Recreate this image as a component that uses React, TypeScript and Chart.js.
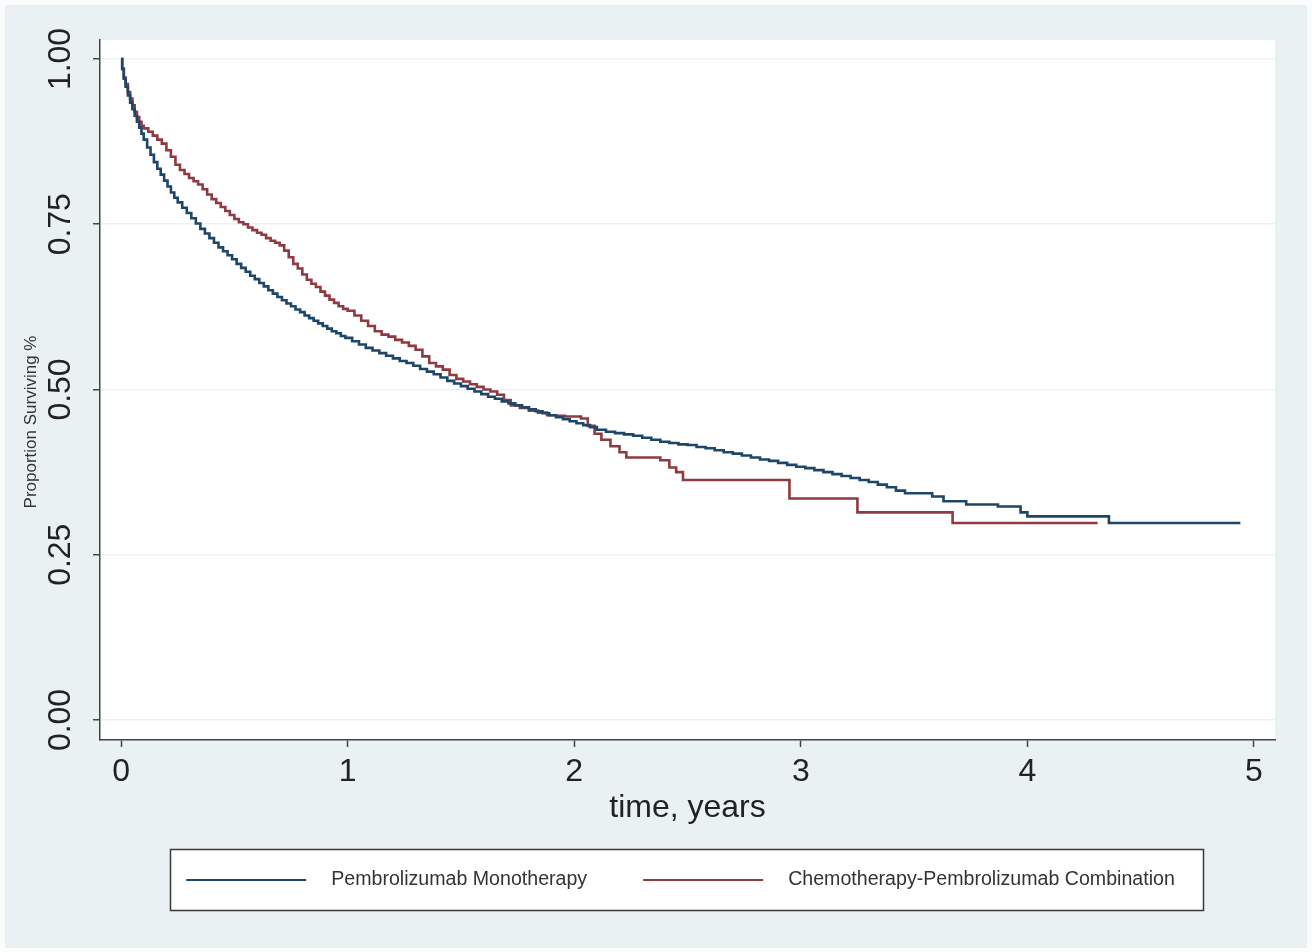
import { useEffect, useRef } from "react";
import { Chart, registerables } from "chart.js";

Chart.register(...registerables);

// ---- data ----
const seriesLabels = ["Pembrolizumab Monotherapy", "Chemotherapy-Pembrolizumab Combination"];
const seriesColors = ["#1d4668", "#8e3a40"];

const xTicks = [0, 1, 2, 3, 4, 5];
const xTickLabels = ["0", "1", "2", "3", "4", "5"];
const yTicks = [0, 0.25, 0.5, 0.75, 1];
const yTickLabels = ["0.00", "0.25", "0.50", "0.75", "1.00"];
const xTitle = "time, years";
const yTitle = "Proportion Surviving %";

const monoTimes = [
  0, 0.005, 0.012, 0.02, 0.03, 0.04, 0.05, 0.06, 0.07, 0.08, 0.09, 0.1, 0.115, 0.13, 0.145,
  0.16, 0.175, 0.19, 0.205, 0.22, 0.235, 0.25, 0.27, 0.29, 0.31, 0.33, 0.35, 0.37, 0.39, 0.41,
  0.43, 0.45, 0.47, 0.49, 0.51, 0.53, 0.55, 0.57, 0.59, 0.61, 0.63, 0.65, 0.67, 0.69, 0.71,
  0.73, 0.75, 0.77, 0.79, 0.81, 0.83, 0.85, 0.87, 0.89, 0.91, 0.93, 0.95, 0.97, 0.99, 1.02,
  1.05, 1.08, 1.11, 1.14, 1.17, 1.2, 1.23, 1.26, 1.29, 1.32, 1.35, 1.38, 1.41, 1.44, 1.47,
  1.5, 1.53, 1.56, 1.59, 1.62, 1.65, 1.68, 1.71, 1.74, 1.77, 1.8, 1.83, 1.86, 1.89, 1.92,
  1.95, 1.98, 2.01, 2.04, 2.07, 2.1, 2.14, 2.18, 2.22, 2.26, 2.3, 2.34, 2.38, 2.42, 2.46,
  2.5, 2.54, 2.58, 2.62, 2.66, 2.7, 2.74, 2.78, 2.82, 2.86, 2.9, 2.94, 2.98, 3.02, 3.06,
  3.1, 3.14, 3.18, 3.22, 3.26, 3.3, 3.34, 3.38, 3.42, 3.46, 3.58, 3.63, 3.73, 3.87, 3.97,
  4.0, 4.36, 4.94,
];
const monoSurvival = [
  1.0, 0.985, 0.97, 0.958, 0.945, 0.934, 0.924, 0.914, 0.905, 0.896, 0.887, 0.878, 0.866,
  0.855, 0.844, 0.834, 0.825, 0.816, 0.807, 0.798, 0.79, 0.783, 0.775, 0.767, 0.759, 0.751,
  0.743, 0.736, 0.729, 0.722, 0.715, 0.709, 0.703, 0.697, 0.69, 0.684, 0.678, 0.672, 0.667,
  0.661, 0.656, 0.65, 0.645, 0.64, 0.635, 0.63, 0.626, 0.621, 0.617, 0.612, 0.608, 0.604,
  0.6, 0.596, 0.592, 0.588, 0.585, 0.581, 0.578, 0.573, 0.568, 0.563, 0.559, 0.555, 0.551,
  0.547, 0.543, 0.54, 0.536, 0.531, 0.527, 0.523, 0.518, 0.513, 0.509, 0.505, 0.501, 0.497,
  0.493, 0.489, 0.486, 0.482, 0.479, 0.476, 0.473, 0.47, 0.467, 0.464, 0.461, 0.458, 0.455,
  0.452, 0.449, 0.446, 0.443, 0.439, 0.436, 0.434, 0.432, 0.43, 0.427, 0.424, 0.421, 0.419,
  0.417, 0.416, 0.413, 0.411, 0.408, 0.405, 0.403, 0.4, 0.397, 0.394, 0.392, 0.389, 0.386,
  0.383, 0.381, 0.378, 0.375, 0.372, 0.369, 0.366, 0.363, 0.36, 0.356, 0.352, 0.347, 0.343,
  0.338, 0.331, 0.326, 0.323, 0.314, 0.308, 0.298, 0.298,
];

const comboTimes = [
  0, 0.005, 0.012, 0.02, 0.03, 0.04, 0.05, 0.06, 0.07, 0.08, 0.09, 0.1, 0.12, 0.14, 0.16,
  0.18, 0.2, 0.22, 0.24, 0.26, 0.28, 0.3, 0.32, 0.34, 0.36, 0.38, 0.4, 0.42, 0.44, 0.46, 0.48,
  0.5, 0.52, 0.54, 0.56, 0.58, 0.6, 0.62, 0.64, 0.66, 0.68, 0.7, 0.72, 0.74, 0.76, 0.78, 0.8,
  0.82, 0.84, 0.86, 0.88, 0.9, 0.92, 0.94, 0.96, 0.98, 1.0, 1.03, 1.06, 1.09, 1.12, 1.15,
  1.18, 1.21, 1.24, 1.27, 1.3, 1.33, 1.36, 1.39, 1.42, 1.45, 1.48, 1.51, 1.54, 1.57, 1.6,
  1.63, 1.66, 1.69, 1.72, 1.76, 1.8, 1.84, 1.88, 1.92, 1.96, 2.03, 2.06, 2.09, 2.12, 2.16,
  2.2, 2.23, 2.38, 2.42, 2.45, 2.48, 2.95, 3.25, 3.67, 4.31,
];
const comboSurvival = [
  1.0, 0.985, 0.972, 0.962, 0.95, 0.94, 0.93, 0.92, 0.912, 0.905, 0.899, 0.895, 0.89, 0.884,
  0.878, 0.872, 0.862, 0.852, 0.84, 0.832, 0.826, 0.82, 0.815, 0.81, 0.803, 0.795, 0.788,
  0.782, 0.776, 0.77, 0.764, 0.758, 0.753, 0.75, 0.745, 0.741, 0.737, 0.734, 0.729, 0.725,
  0.722, 0.718, 0.71, 0.7, 0.69, 0.683, 0.674, 0.666, 0.66, 0.655, 0.648, 0.642, 0.636,
  0.631, 0.626, 0.622, 0.619, 0.612, 0.604, 0.596, 0.588, 0.583, 0.58, 0.575, 0.571, 0.566,
  0.56, 0.55, 0.54, 0.535, 0.53, 0.522, 0.516, 0.512, 0.508, 0.504, 0.5, 0.497, 0.492, 0.484,
  0.476, 0.472, 0.468, 0.465, 0.461, 0.46, 0.459, 0.456, 0.445, 0.433, 0.424, 0.414, 0.405,
  0.397, 0.393, 0.382, 0.375, 0.363, 0.335, 0.314, 0.298, 0.298,
];

const FONT = '"Liberation Sans", Arial, Helvetica, sans-serif';

const stataPlugin = {
  id: "stataFrame",
  beforeDraw(chart: any) {
    const { ctx, width, height, chartArea } = chart;
    ctx.save();
    ctx.fillStyle = "#fbfdfd";
    ctx.fillRect(0, 0, width, height);
    ctx.fillStyle = "#e9f1f3";
    ctx.fillRect(5, 5, width - 10, height - 9);
    ctx.fillStyle = "#ffffff";
    ctx.fillRect(chartArea.left, chartArea.top, chartArea.right - chartArea.left, chartArea.bottom - chartArea.top);
    ctx.restore();
  },
  afterDraw(chart: any) {
    const { ctx } = chart;
    ctx.save();
    // y axis title
    ctx.translate(31, 422);
    ctx.rotate(-Math.PI / 2);
    ctx.font = `17px ${FONT}`;
    ctx.fillStyle = "#333333";
    ctx.textAlign = "center";
    ctx.textBaseline = "middle";
    ctx.fillText(yTitle, 0, 0);
    ctx.restore();

    // legend
    ctx.save();
    const bx = 170, by = 849, bw = 1033, bh = 61;
    ctx.fillStyle = "#ffffff";
    ctx.fillRect(bx, by, bw, bh);
    ctx.strokeStyle = "#3a3a3a";
    ctx.lineWidth = 1.5;
    ctx.strokeRect(bx + 0.5, by + 0.5, bw, bh);
    ctx.font = `19.6px ${FONT}`;
    const lineLen = 120, gapText = 25, gapItems = 56;
    const widths = chart.data.datasets.map((d: any) => ctx.measureText(d.label).width);
    const total = widths.reduce((a: number, w: number) => a + lineLen + gapText + w, 0) + gapItems * (widths.length - 1);
    let x = bx + bw / 2 - 6 - total / 2;
    const cy = by + bh / 2 + 0.5;
    chart.data.datasets.forEach((d: any, i: number) => {
      ctx.strokeStyle = d.borderColor;
      ctx.lineWidth = 2;
      ctx.beginPath();
      ctx.moveTo(x, cy);
      ctx.lineTo(x + lineLen, cy);
      ctx.stroke();
      ctx.fillStyle = "#333333";
      ctx.textAlign = "left";
      ctx.textBaseline = "middle";
      ctx.fillText(d.label, x + lineLen + gapText, cy);
      x += lineLen + gapText + widths[i] + gapItems;
    });
    ctx.restore();
  },
};

export default function App() {
  const canvasRef = useRef<HTMLCanvasElement | null>(null);

  useEffect(() => {
    if (!canvasRef.current) return;
    const toPoints = (ts: number[], ss: number[]) => ts.map((t, i) => ({ x: t, y: ss[i] }));
    const chart = new Chart(canvasRef.current, {
      type: "line",
      data: {
        datasets: [
          {
            label: seriesLabels[0],
            data: toPoints(monoTimes, monoSurvival),
            borderColor: seriesColors[0],
            backgroundColor: seriesColors[0],
            borderWidth: 2.6,
            pointRadius: 0,
            stepped: "before",
            fill: false,
          },
          {
            label: seriesLabels[1],
            data: toPoints(comboTimes, comboSurvival),
            borderColor: seriesColors[1],
            backgroundColor: seriesColors[1],
            borderWidth: 2.6,
            pointRadius: 0,
            stepped: "before",
            fill: false,
          },
        ],
      },
      options: {
        animation: false,
        responsive: false,
        devicePixelRatio: 1,
        layout: { padding: { left: 20, right: 37, top: 40, bottom: 125 } },
        plugins: {
          legend: { display: false },
          tooltip: { enabled: false },
          title: { display: false },
        },
        scales: {
          x: {
            type: "linear",
            min: -0.093,
            max: 5.093,
            afterBuildTicks: (s: any) => {
              s.ticks = xTicks.map((v) => ({ value: v }));
            },
            afterFit: (s: any) => {
              s.height = 87;
            },
            ticks: {
              autoSkip: false,
              maxRotation: 0,
              minRotation: 0,
              padding: 6,
              color: "#222222",
              font: { size: 32, family: FONT },
              callback: (_v: any, i: number) => xTickLabels[i],
            },
            grid: {
              drawOnChartArea: false,
              drawTicks: true,
              tickLength: 7,
              tickColor: "#444444",
              tickWidth: 1.5,
            },
            border: { display: true, color: "#444444", width: 1.5 },
            title: {
              display: true,
              text: xTitle,
              color: "#222222",
              font: { size: 32, family: FONT, lineHeight: 1.2 },
              padding: { top: 0, bottom: 0 },
            },
          },
          y: {
            type: "linear",
            min: -0.0303,
            max: 1.0287,
            afterBuildTicks: (s: any) => {
              s.ticks = yTicks.map((v) => ({ value: v }));
            },
            afterFit: (s: any) => {
              s.width = 80;
            },
            ticks: {
              autoSkip: false,
              minRotation: 90,
              maxRotation: 90,
              crossAlign: "center",
              padding: 1,
              color: "#222222",
              font: { size: 32, family: FONT },
              callback: (_v: any, i: number) => yTickLabels[i],
            },
            grid: {
              color: "#edf3f4",
              lineWidth: 1.5,
              drawTicks: true,
              tickLength: 7,
              tickColor: "#444444",
              tickWidth: 1.5,
            },
            border: { display: true, color: "#444444", width: 1.5 },
            title: { display: false },
          },
        },
      },
      plugins: [stataPlugin],
    } as any);
    return () => chart.destroy();
  }, []);

  return (
    <div style={{ position: "fixed", left: 0, top: 0, width: 1312, height: 952 }}>
      <canvas ref={canvasRef} width={1312} height={952} style={{ display: "block", width: 1312, height: 952 }} />
    </div>
  );
}
